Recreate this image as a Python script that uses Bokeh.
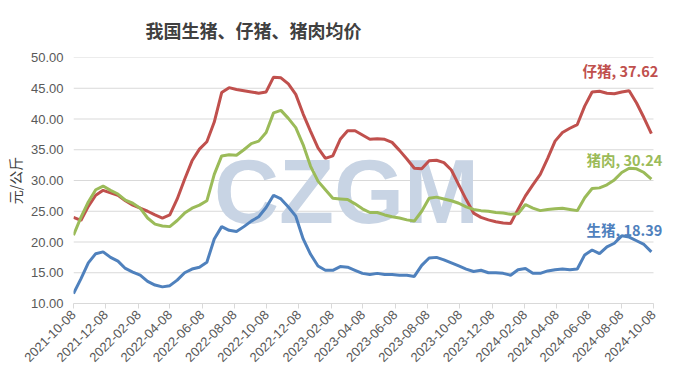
import pandas as pd
from math import pi
from bokeh.plotting import figure
from bokeh.models import FixedTicker, Label, NumeralTickFormatter, Range1d
from bokeh.embed import file_html
from bokeh.resources import INLINE

# ---- data (biweekly readings, 元/公斤) ----
dates = pd.date_range("2021-10-08", periods=79, freq="14D")

piglet = [24.0, 23.5, 25.8, 27.6, 28.4, 28.0, 27.6, 26.7, 26.0, 25.5,
          25.0, 24.4, 23.9, 24.4, 27.0, 30.2, 33.2, 35.1, 36.3, 39.5,
          44.3, 45.1, 44.8, 44.6, 44.4, 44.2, 44.4, 46.8, 46.7, 45.7,
          44.0, 40.8, 38.0, 35.3, 33.6, 34.0, 36.7, 38.1, 38.1, 37.4,
          36.7, 36.8, 36.7, 36.2, 34.9, 33.5, 32.0, 31.9, 33.2, 33.3,
          32.9, 31.7, 29.3, 26.9, 24.7, 24.0, 23.6, 23.3, 23.1, 23.0,
          25.3, 27.5, 29.3, 31.0, 33.6, 36.4, 37.8, 38.5, 39.1, 42.1,
          44.4, 44.5, 44.2, 44.1, 44.4, 44.6, 42.6, 40.2, 37.62]

pork = [21.1, 24.0, 26.5, 28.5, 29.1, 28.4, 27.8, 26.8, 26.3, 25.5,
        23.9, 22.9, 22.6, 22.5, 23.5, 24.7, 25.5, 26.0, 26.7, 31.0,
        34.0, 34.2, 34.1, 35.0, 36.0, 36.4, 37.8, 41.0, 41.4, 40.1,
        38.6, 35.8, 32.3, 29.9, 28.5, 27.1, 27.0, 26.9, 26.2, 25.4,
        24.8, 24.8, 24.4, 24.1, 23.9, 23.6, 23.4, 25.0, 27.1, 27.3,
        27.0, 26.7, 26.3, 25.7, 25.3, 25.1, 25.0, 24.8, 24.7, 24.5,
        24.6, 26.1, 25.5, 25.1, 25.3, 25.4, 25.5, 25.3, 25.1, 27.2,
        28.7, 28.8, 29.3, 30.1, 31.3, 32.0, 31.9, 31.3, 30.24]

hog = [11.6, 14.0, 16.6, 18.1, 18.4, 17.5, 16.9, 15.7, 15.1, 14.6,
       13.6, 13.0, 12.7, 12.9, 13.8, 15.0, 15.6, 15.9, 16.7, 20.5,
       22.5, 21.9, 21.7, 22.5, 23.4, 24.1, 25.6, 27.6, 27.0, 25.7,
       24.2, 20.5, 18.0, 16.1, 15.4, 15.4, 16.0, 15.9, 15.4, 14.9,
       14.7, 14.9, 14.7, 14.7, 14.6, 14.6, 14.4, 16.2, 17.4, 17.5,
       17.1, 16.6, 16.1, 15.6, 15.2, 15.4, 15.0, 15.0, 14.9, 14.6,
       15.5, 15.7, 14.9, 14.9, 15.3, 15.5, 15.6, 15.5, 15.6, 17.9,
       18.7, 18.1, 19.2, 19.8, 21.0, 20.8, 20.2, 19.6, 18.39]

series_names = ["仔猪", "猪肉", "生猪"]
tick_labels = ["2021-10-08", "2021-12-08", "2022-02-08", "2022-04-08", "2022-06-08",
               "2022-08-08", "2022-10-08", "2022-12-08", "2023-02-08", "2023-04-08",
               "2023-06-08", "2023-08-08", "2023-10-08", "2023-12-08", "2024-02-08",
               "2024-04-08", "2024-06-08", "2024-08-08", "2024-10-08"]
y_ticks = [10, 15, 20, 25, 30, 35, 40, 45, 50]

start = pd.Timestamp(tick_labels[0])

def day(d):
    return int((pd.Timestamp(d) - start).days)

xs = [day(d) for d in dates]
tick_pos = [day(t) for t in tick_labels]
x_lo, x_hi = tick_pos[0], tick_pos[-1]
x_view_hi = x_hi + (x_hi - x_lo) * 10 / 580   # room on the right for the end labels

RED, GREEN, BLUE = "#c0504d", "#9bbb59", "#4f81bd"
GRAY_TXT = "#595959"
GRID = "#d9d9d9"
CJK = "Noto Sans CJK SC"

p = figure(frame_width=590, frame_height=246,
           x_range=Range1d(x_lo, x_view_hi),
           y_range=Range1d(y_ticks[0], y_ticks[-1]),
           output_backend="svg", toolbar_location=None,
           min_border_left=73, min_border_right=2,
           min_border_top=45, min_border_bottom=60)
p.outline_line_color = None
p.background_fill_color = "white"

# title
p.title.text = "我国生猪、仔猪、猪肉均价"
p.title.text_font = CJK
p.title.text_font_size = "18px"
p.title.text_font_style = "bold"
p.title.text_color = "#404040"
p.title.align = "left"
p.title.offset = 72
p.title.standoff = 29

# horizontal gridlines limited to the date span
p.segment(x0=[x_lo] * len(y_ticks), x1=[x_hi] * len(y_ticks), y0=y_ticks, y1=y_ticks,
          line_color=GRID, line_width=1, level="underlay")

# watermark
p.add_layout(Label(x=day("2023-03-08"), y=28.2, text="CZGM", level="underlay",
                   text_font="Liberation Sans", text_font_style="bold",
                   text_font_size="90px", text_color="#c8d4e4",
                   text_align="center", text_baseline="middle"))

for vals, col in [(piglet, RED), (pork, GREEN), (hog, BLUE)]:
    p.line(xs, vals, line_color=col, line_width=3)

# end labels
for name, vals, col, dx, dy in [(series_names[0], piglet, RED, 7, 63),
                                (series_names[1], pork, GREEN, 11, 20),
                                (series_names[2], hog, BLUE, 11, 22)]:
    p.add_layout(Label(x=xs[-1], y=vals[-1], text=f"{name}, {vals[-1]:.2f}",
                       x_offset=dx, y_offset=dy, text_align="right",
                       text_baseline="middle", text_font=CJK,
                       text_font_size="14.5px", text_font_style="bold",
                       text_color=col))

# axes
p.xaxis.ticker = FixedTicker(ticks=tick_pos)
p.xaxis.bounds = (x_lo, x_hi)
p.xaxis.major_label_overrides = {t: lab for t, lab in zip(tick_pos, tick_labels)}
p.xaxis.major_label_orientation = pi / 4
p.xaxis.axis_line_color = GRID
p.xaxis.major_tick_line_color = GRID
p.xaxis.major_tick_out = 5
p.xaxis.major_tick_in = 0
p.xaxis.minor_tick_line_color = None
p.xaxis.major_label_text_font = "Liberation Sans"
p.xaxis.major_label_text_font_size = "13px"
p.xaxis.major_label_text_color = GRAY_TXT
p.xaxis.major_label_standoff = 4

p.yaxis.ticker = FixedTicker(ticks=y_ticks)
p.yaxis.formatter = NumeralTickFormatter(format="0.00")
p.yaxis.axis_line_color = None
p.yaxis.major_tick_line_color = None
p.yaxis.major_tick_out = 0
p.yaxis.major_tick_in = 0
p.yaxis.minor_tick_line_color = None
p.yaxis.major_label_text_font = "Liberation Sans"
p.yaxis.major_label_text_font_size = "13px"
p.yaxis.major_label_text_color = GRAY_TXT
p.yaxis.major_label_standoff = 10
p.yaxis.axis_label = "元/公斤"
p.yaxis.axis_label_text_font = CJK
p.yaxis.axis_label_text_font_size = "14px"
p.yaxis.axis_label_text_font_style = "normal"
p.yaxis.axis_label_text_color = "#404040"
p.yaxis.axis_label_standoff = 3

p.xgrid.grid_line_color = None
p.ygrid.grid_line_color = None

open("out.html", "w").write(file_html(p, INLINE))
